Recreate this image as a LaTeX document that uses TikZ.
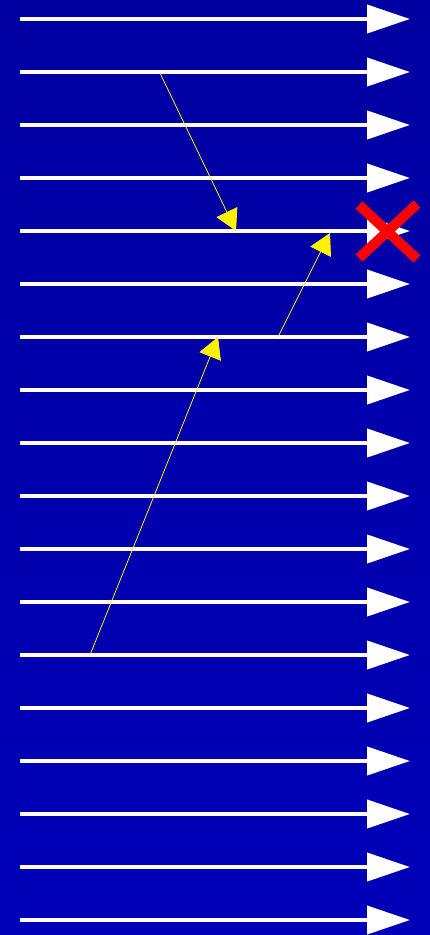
\documentclass[tikz,border=0pt]{standalone}
\usetikzlibrary{arrows.meta}
\definecolor{bgtop}{RGB}{0,0,162}
\definecolor{bgmid}{RGB}{0,0,200}
\definecolor{bgbot}{RGB}{0,0,184}
\tikzset{
  flow/.style={draw=white, line width=4pt, -{Triangle[length=43pt,width=28pt]}},
  jump/.style={draw=yellow, line width=0.8pt, -{Triangle[length=21pt,width=23pt]}},
  cross/.style={draw=red, line width=10pt},
}
\begin{document}
\begin{tikzpicture}[x=1pt,y=-1pt]
\useasboundingbox (0,0) rectangle (430,935);
\shade[top color=bgtop, middle color=bgmid, bottom color=bgbot] (0,0) rectangle (430,935);
\foreach \i in {0,...,17}{
  \coordinate (L\i) at (20,{19+53*\i});
  \coordinate (R\i) at (410,{19+53*\i});
  \draw[flow] (L\i) -- (R\i);
}
\coordinate (a1s) at (160,73);
\coordinate (a1e) at (236,231);
\coordinate (a2s) at (278,337);
\coordinate (a2e) at (330,233);
\coordinate (a3s) at (90,655);
\coordinate (a3e) at (218,337);
\draw[jump] (a1s) -- (a1e);
\draw[jump] (a2s) -- (a2e);
\draw[jump] (a3s) -- (a3e);
\coordinate (x1) at (359,205);
\coordinate (x2) at (417,259);
\coordinate (x3) at (359,258);
\coordinate (x4) at (417,204);
\draw[cross] (x1) -- (x2);
\draw[cross] (x3) -- (x4);
\end{tikzpicture}
\end{document}
